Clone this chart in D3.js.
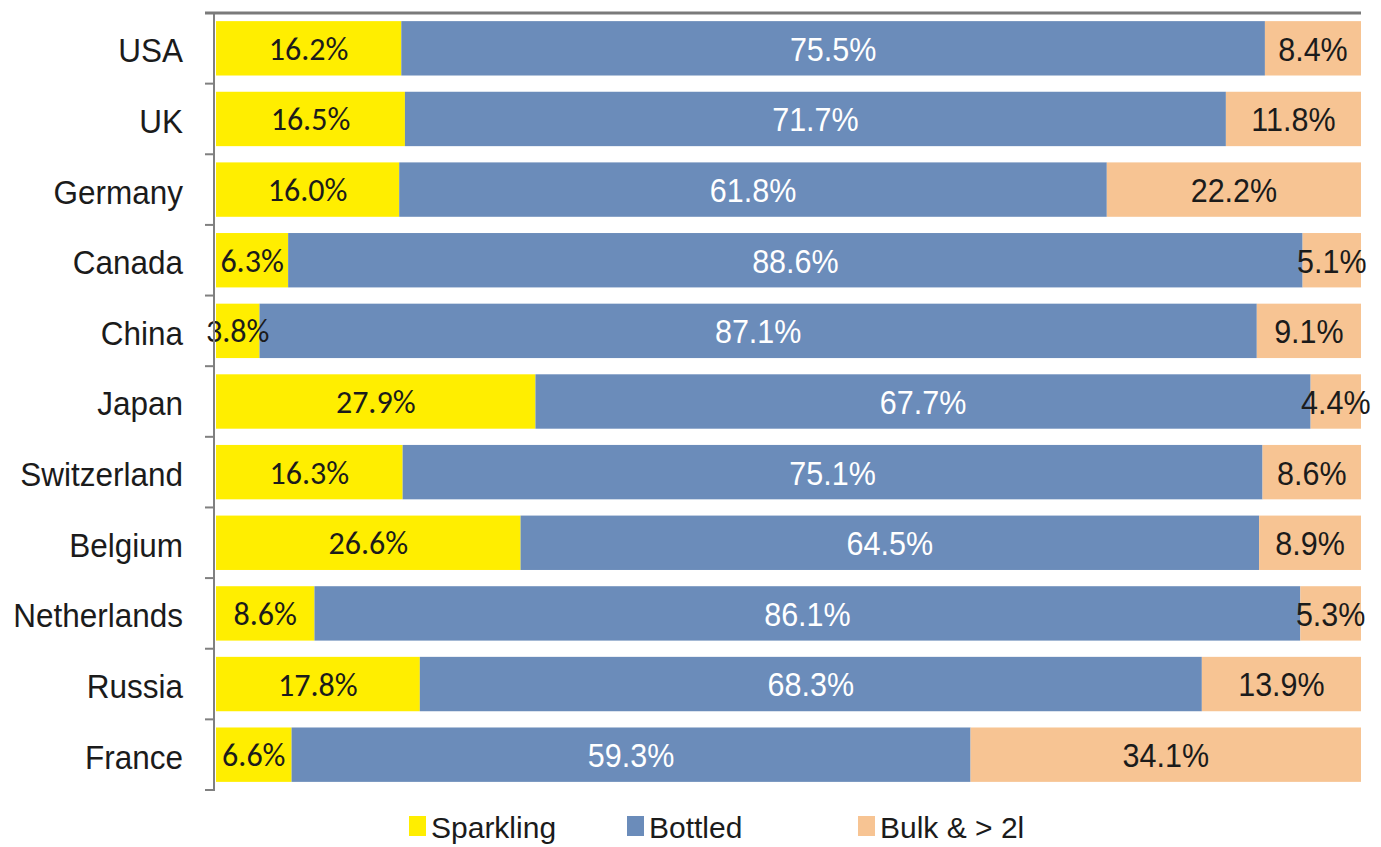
<!DOCTYPE html>
<html>
<head>
<meta charset="utf-8">
<script src="https://cdn.jsdelivr.net/npm/d3@7"></script>
<style>
  body { margin: 0; background: #fff; }
  svg { display: block; }
  .cat { font-family: "Liberation Sans", Arial, sans-serif; font-size: 31.5px; fill: #1b1b1b; }
  .val { font-family: "Liberation Sans", Arial, sans-serif; font-size: 30.5px; }
  .val-spark { font-family: Carlito, Lato, sans-serif; font-size: 32px; fill: #1b1b1b; }
  .leg { font-family: "Liberation Sans", Arial, sans-serif; font-size: 30px; fill: #1b1b1b; }
</style>
</head>
<body>
<svg id="chart" width="1381" height="847"></svg>
<script>
'use strict';

var countries = ['USA', 'UK', 'Germany', 'Canada', 'China', 'Japan', 'Switzerland',
    'Belgium', 'Netherlands', 'Russia', 'France'];
var sparkling = [16.2, 16.5, 16.0, 6.3, 3.8, 27.9, 16.3, 26.6, 8.6, 17.8, 6.6];
var bottled = [75.5, 71.7, 61.8, 88.6, 87.1, 67.7, 75.1, 64.5, 86.1, 68.3, 59.3];
var bulk = [8.4, 11.8, 22.2, 5.1, 9.1, 4.4, 8.6, 8.9, 5.3, 13.9, 34.1];
var seriesNames = ['Sparkling', 'Bottled', 'Bulk & > 2l'];

var keys = ['sparkling', 'bottled', 'bulk'];
var colors = { sparkling: '#ffee00', bottled: '#6b8cba', bulk: '#f7c493' };
var textColors = { sparkling: '#1b1b1b', bottled: '#ffffff', bulk: '#1b1b1b' };

// text in the original is a bit taller than wide
var STRETCH = 1.08;

function stretched(x, y) {
    return 'translate(' + x + ',' + y + ') scale(1,' + STRETCH + ')';
}

// rows for d3.stack
var rows = countries.map(function(c, i) {
    return { country: c, sparkling: sparkling[i], bottled: bottled[i], bulk: bulk[i] };
});

var stacked = d3.stack()
    .keys(keys)
    .offset(d3.stackOffsetExpand)(rows);

var svg = d3.select('#chart');

var x = d3.scaleLinear()
    .domain([0, 1])
    .range([216, 1361]);

var y = d3.scaleBand()
    .domain(countries)
    .range([13, 790])
    .paddingInner(0.23)
    .paddingOuter(0.115);

var AXIS_X = 214;

// bars
var layers = svg.append('g')
    .attr('id', 'bars')
    .selectAll('g')
    .data(stacked)
    .enter()
    .append('g')
    .attr('fill', function(d) { return colors[d.key]; });

layers.selectAll('rect')
    .data(function(d) { return d; })
    .enter()
    .append('rect')
    .attr('x', function(d) { return x(d[0]); })
    .attr('y', function(d) { return y(d.data.country); })
    .attr('width', function(d) { return x(d[1]) - x(d[0]); })
    .attr('height', y.bandwidth());

// value labels
stacked.forEach(function(layer) {
    var spark = layer.key === 'sparkling';
    svg.append('g')
        .attr('class', 'labels-' + layer.key)
        .selectAll('text')
        .data(layer)
        .enter()
        .append('text')
        .attr('class', spark ? 'val-spark' : 'val')
        .attr('transform', function(d) {
            var cx = (x(d[0]) + x(d[1])) / 2;
            var cy = y(d.data.country) + y.bandwidth() / 2 + 1;
            return spark ? 'translate(' + cx + ',' + cy + ')' : stretched(cx, cy);
        })
        .attr('text-anchor', 'middle')
        .attr('dominant-baseline', 'central')
        .style('fill', textColors[layer.key])
        .text(function(d) { return d.data[layer.key].toFixed(1) + '%'; });
});

// axis line, top border and ticks
var axis = svg.append('g')
    .attr('id', 'axisY')
    .attr('fill', '#808080');

axis.append('rect')
    .attr('x', AXIS_X - 1)
    .attr('y', 12)
    .attr('width', 2)
    .attr('height', 779);

// top border of the plot area
svg.append('path')
    .attr('d', d3.line()([[AXIS_X - 9, 13], [x.range()[1], 13]]))
    .attr('stroke', '#7a7a7a')
    .attr('stroke-width', 3)
    .attr('fill', 'none');

var tickPos = d3.range(1, countries.length + 1).map(function(i) {
    return 13 + i * (777 / countries.length);
});

axis.selectAll('.tick')
    .data(tickPos)
    .enter()
    .append('rect')
    .attr('class', 'tick')
    .attr('x', AXIS_X - 9)
    .attr('y', function(d) { return d - 1; })
    .attr('width', 9)
    .attr('height', 2);

// category labels
svg.append('g')
    .selectAll('text')
    .data(countries)
    .enter()
    .append('text')
    .attr('class', 'cat')
    .attr('transform', function(d) { return stretched(183, y(d) + y.bandwidth() / 2 + 2); })
    .attr('text-anchor', 'end')
    .attr('dominant-baseline', 'central')
    .text(function(d) { return d; });

// legend
var legendX = [409, 627, 858];
var legend = svg.append('g')
    .attr('id', 'legend')
    .selectAll('g')
    .data(seriesNames)
    .enter()
    .append('g')
    .attr('transform', function(d, i) { return 'translate(' + legendX[i] + ',0)'; });

legend.append('rect')
    .attr('x', 0)
    .attr('y', 816)
    .attr('width', 17)
    .attr('height', 20)
    .attr('fill', function(d, i) { return colors[keys[i]]; });

legend.append('text')
    .attr('class', 'leg')
    .attr('x', 22)
    .attr('y', 827)
    .attr('dominant-baseline', 'central')
    .text(function(d) { return d; });
</script>
</body>
</html>
